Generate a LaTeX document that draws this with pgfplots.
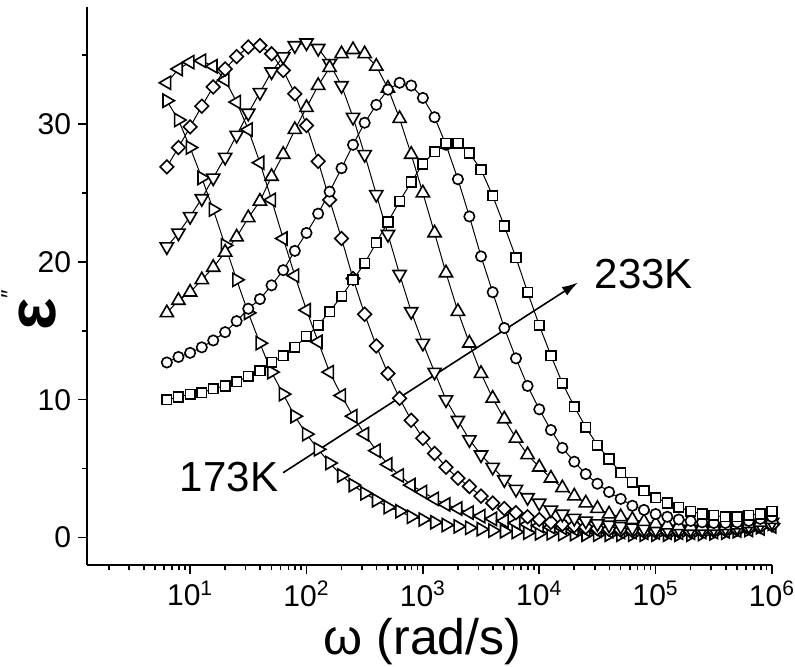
\documentclass[border=0pt]{standalone}
\usepackage{fontspec}
\setmainfont{Liberation Sans}
\usepackage{pgfplots}
\pgfplotsset{compat=1.18}
\usepackage{pgfplotstable}
\usetikzlibrary{calc,arrows.meta}

\pgfplotstableread{
w R L D Dn Up C S
6.31 31.7 33.0 26.9 21.1 16.3 12.7 10.0
7.94 30.3 34.0 28.3 22.1 17.2 13.1 10.2
10 28.3 34.5 29.8 23.3 17.8 13.4 10.4
12.6 26.1 34.6 31.3 24.6 18.7 13.8 10.5
15.8 23.8 34.2 32.7 26.1 19.6 14.3 10.8
20.0 21.2 33.2 34.0 27.6 20.7 14.9 11.0
25.1 18.7 31.6 34.9 29.2 21.8 15.7 11.3
31.6 16.3 29.6 35.6 30.8 23.2 16.6 11.7
39.8 14.1 27.2 35.7 32.3 24.4 17.3 12.1
50.1 12.0 24.5 35.1 33.8 26.2 18.3 12.7
63.1 10.4 21.7 33.9 34.9 27.8 19.4 13.2
79.4 8.8 19.0 32.2 35.7 29.6 20.8 13.8
100 7.5 16.5 29.9 35.9 31.2 22.1 14.6
126 6.4 14.2 27.3 35.5 32.8 23.5 15.4
158 5.4 12.0 24.5 34.4 34.1 25.1 16.4
200 4.5 10.3 21.7 32.8 35.1 26.8 17.5
251 3.8 8.8 18.8 30.5 35.4 28.5 18.7
316 3.2 7.5 16.2 27.8 35.1 30.1 19.9
398 2.7 6.3 13.9 24.9 34.2 31.4 21.4
501 2.2 5.3 11.9 22.0 32.6 32.5 22.9
631 1.9 4.5 10.1 19.1 30.4 33.0 24.4
794 1.5 3.8 8.5 16.4 27.8 32.8 25.8
1000 1.3 3.3 7.2 14.1 25.0 31.9 27.1
1260 1.1 2.8 6.1 12.0 22.1 30.5 28.0
1580 0.9 2.4 5.1 10.0 19.2 28.5 28.6
2000 0.8 2.1 4.3 8.5 16.4 26.0 28.6
2510 0.7 1.8 3.7 7.1 14.1 23.3 27.9
3160 0.6 1.55 3.0 6.0 11.9 20.4 26.7
3980 0.5 1.35 2.5 5.1 10.1 17.8 24.8
5010 0.45 1.2 2.1 4.2 8.6 15.2 22.6
6310 0.4 1.05 1.8 3.5 7.2 13.0 20.3
7940 0.35 0.95 1.5 2.9 6.0 11.0 17.8
10000 0.3 0.85 1.3 2.5 5.1 9.3 15.4
12600 0.3 0.75 1.1 2.0 4.3 7.8 13.2
15800 0.25 0.7 0.95 1.7 3.6 6.5 11.2
20000 0.25 0.6 0.85 1.4 3.0 5.5 9.5
25100 0.2 0.55 0.75 1.2 2.5 4.6 8.0
31600 0.2 0.5 0.65 1.0 2.1 3.9 6.7
39800 0.2 0.45 0.6 0.9 1.7 3.3 5.7
50100 0.2 0.4 0.55 0.8 1.5 2.8 4.7
63100 0.2 0.4 0.5 0.7 1.3 2.3 4.0
79400 0.2 0.35 0.45 0.65 1.15 2.0 3.4
100000 0.2 0.35 0.45 0.6 1.0 1.7 2.9
126000 0.2 0.35 0.45 0.6 0.9 1.5 2.5
158000 0.2 0.35 0.45 0.6 0.85 1.3 2.2
200000 0.2 0.35 0.45 0.6 0.8 1.2 1.9
251000 0.25 0.4 0.5 0.6 0.8 1.1 1.7
316000 0.3 0.4 0.5 0.65 0.8 1.05 1.6
398000 0.35 0.45 0.55 0.7 0.85 1.05 1.5
501000 0.45 0.5 0.6 0.75 0.9 1.1 1.5
631000 0.55 0.55 0.7 0.85 1.0 1.2 1.6
794000 0.75 0.65 0.8 0.95 1.1 1.35 1.7
1000000 1.0 0.8 0.9 1.1 1.3 1.5 1.9
}\datatable

\begin{document}
\begin{tikzpicture}
\begin{axis}[name=ax,
  scale only axis, width=342.5pt, height=279pt,
  xmode=log, xmin=1.3, xmax=1e6, ymin=-2, ymax=38.5,
  axis x line=bottom, axis y line=left,
  axis line style={-, line width=0.9pt},
  tick align=outside,
  xtick={10,100,1000,10000,100000,1000000},
  xticklabels={10\textsuperscript{1},10\textsuperscript{2},10\textsuperscript{3},10\textsuperscript{4},10\textsuperscript{5},10\textsuperscript{6}},
  minor xtick={2,3,4,5,6,7,8,9,20,30,40,50,60,70,80,90,200,300,400,500,600,700,800,900,2000,3000,4000,5000,6000,7000,8000,9000,20000,30000,40000,50000,60000,70000,80000,90000,200000,300000,400000,500000,600000,700000,800000,900000},
  ytick={0,10,20,30}, minor ytick={5,15,25,35},
  yticklabels={0,10,20,30},
  major tick length=4.5pt, minor tick length=2.5pt,
  every tick/.style={black, line width=0.8pt},
  ticklabel style={font=\fontsize{15}{16}\selectfont},
  xlabel={ω (rad/s)},
  xlabel style={at={(axis description cs:0.49,-0.137)}, anchor=center, font=\fontsize{25}{27}\selectfont},
  ylabel={ε\raisebox{0.55em}{\fontsize{12}{12}\selectfont\mdseries ″}},
  ylabel style={at={(axis description cs:-0.085,0.457)}, anchor=center, font=\fontsize{34}{34}\selectfont\bfseries},
  every axis plot/.append style={black, line width=0.5pt},
]
\addplot[mark=triangle*, mark size=3.8pt, mark options={rotate=-90, fill=white, draw=black, solid, line width=0.8pt}] table[x=w,y=R]{\datatable};
\addplot[mark=triangle*, mark size=3.8pt, mark options={rotate=90, fill=white, draw=black, solid, line width=0.8pt}] table[x=w,y=L]{\datatable};
\addplot[mark=square*, mark size=2.4pt, mark options={rotate=45, fill=white, draw=black, solid, line width=0.8pt}] table[x=w,y=D]{\datatable};
\addplot[mark=triangle*, mark size=3.8pt, mark options={rotate=180, fill=white, draw=black, solid, line width=0.8pt}] table[x=w,y=Dn]{\datatable};
\addplot[mark=triangle*, mark size=3.8pt, mark options={fill=white, draw=black, solid, line width=0.8pt}] table[x=w,y=Up]{\datatable};
\addplot[mark=*, mark size=2.6pt, mark options={fill=white, draw=black, solid, line width=0.8pt}] table[x=w,y=C]{\datatable};
\addplot[mark=square*, mark size=2.4pt, mark options={fill=white, draw=black, solid, line width=0.8pt}] table[x=w,y=S]{\datatable};
\draw[-{Latex[length=8pt,width=5pt]}, line width=0.8pt] (axis cs:63,4.7) -- (axis cs:21500,18.5);
\node[font=\fontsize{21}{21}\selectfont] at (axis cs:21.6,4.35) {173K};
\node[font=\fontsize{21}{21}\selectfont] at (axis cs:79000,19.1) {233K};
\end{axis}
\pgfresetboundingbox
\path ($(ax.south west)+(-43.5pt,-50.5pt)$) rectangle ($(ax.north east)+(11.5pt,3.5pt)$);
\end{tikzpicture}
\end{document}
